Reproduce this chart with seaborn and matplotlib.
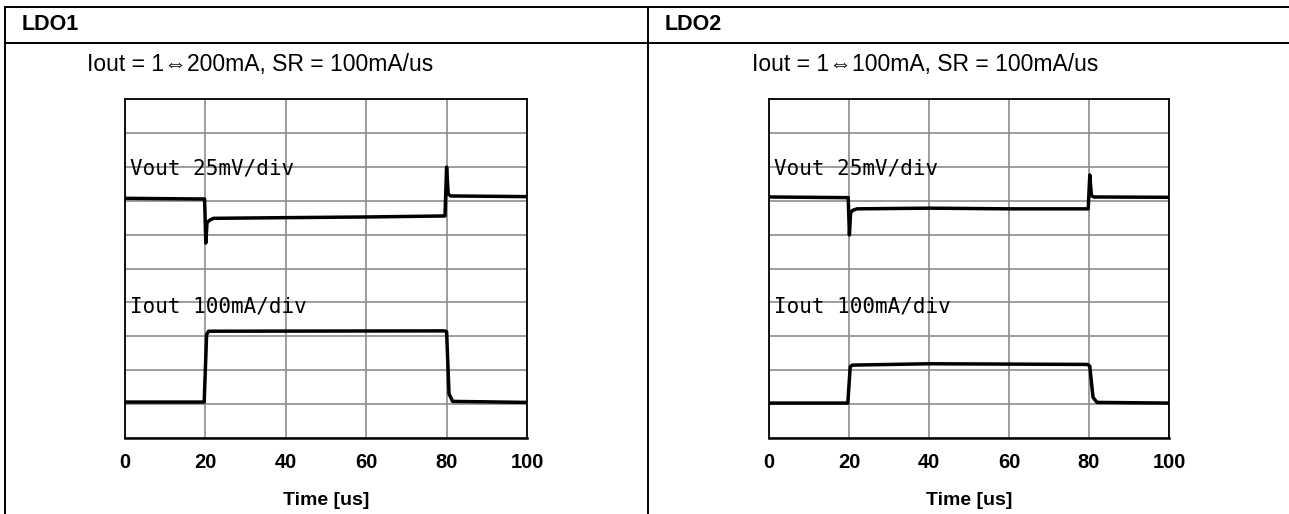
import matplotlib
matplotlib.use("Agg")
import matplotlib.pyplot as plt
import seaborn as sns
import pandas as pd
from matplotlib.lines import Line2D

# ---------------- data ----------------
panel_names = ["LDO1", "LDO2"]
panel_titles = ["Iout = 1\u21d4200mA, SR = 100mA/us", "Iout = 1\u21d4100mA, SR = 100mA/us"]

ldo1_vout_t = [0, 19.8, 20.1, 20.4, 21.0, 22.0, 40.0, 60.0, 79.6, 80.0, 80.4, 81.0, 100]
ldo1_vout_v = [7.07, 7.05, 5.75, 6.35, 6.42, 6.48, 6.50, 6.52, 6.55, 7.99, 7.20, 7.14, 7.12]
ldo1_iout_t = [0, 19.7, 20.3, 20.8, 79.4, 80.0, 80.6, 81.5, 100]
ldo1_iout_v = [1.06, 1.06, 3.05, 3.15, 3.16, 3.14, 1.30, 1.08, 1.05]

ldo2_vout_t = [0, 19.8, 20.1, 20.4, 21.0, 22.0, 40.0, 60.0, 79.8, 80.2, 80.6, 81.2, 100]
ldo2_vout_v = [7.11, 7.09, 5.99, 6.65, 6.72, 6.76, 6.78, 6.76, 6.76, 7.76, 7.15, 7.11, 7.10]
ldo2_iout_t = [0, 19.7, 20.3, 20.8, 40.0, 79.6, 80.2, 81.0, 82.0, 100]
ldo2_iout_v = [1.03, 1.03, 2.10, 2.15, 2.19, 2.17, 2.12, 1.20, 1.05, 1.03]

x_ticks = [0, 20, 40, 60, 80, 100]
y_divs = list(range(0, 11))
vout_label = "Vout 25mV/div"
iout_label = "Iout 100mA/div"
x_label = "Time [us]"

# ---------------- figure ----------------
sns.set_style("white")
plt.rcParams["font.family"] = ["Liberation Sans", "Noto Sans CJK JP", "DejaVu Sans"]
plt.rcParams["text.color"] = "black"
plt.rcParams["xtick.color"] = "black"
plt.rcParams["axes.labelcolor"] = "black"

fig = plt.figure(figsize=(12.89, 5.14), dpi=100)
W, H = 1289, 514

def fx(px):
    return px / W

def fy(py):
    return 1 - py / H

# table lines
lw_tab = 1.4
for (x0, y0, x1, y1) in [(5, 7, 1289, 7), (5, 43, 1289, 43), (5, 7, 5, 514), (648, 7, 648, 514)]:
    fig.add_artist(Line2D([fx(x0), fx(x1)], [fy(y0), fy(y1)], color="black", lw=lw_tab,
                          transform=fig.transFigure))

# headers & titles
fig.text(fx(22), fy(25), panel_names[0], fontsize=15.5, fontweight="bold", va="center", ha="left")
fig.text(fx(665), fy(25), panel_names[1], fontsize=15.5, fontweight="bold", va="center", ha="left")
fig.text(fx(260), fy(65), panel_titles[0], fontsize=16.5, va="center", ha="center")
fig.text(fx(925), fy(65), panel_titles[1], fontsize=16.5, va="center", ha="center")

axes_px = [(125, 527), (769, 1169)]
top_px, bot_px = 99, 438
series = [
    (ldo1_vout_t, ldo1_vout_v, ldo1_iout_t, ldo1_iout_v),
    (ldo2_vout_t, ldo2_vout_v, ldo2_iout_t, ldo2_iout_v),
]

for (l, r), (vt, vv, it, iv) in zip(axes_px, series):
    ax = fig.add_axes([fx(l), fy(bot_px), fx(r) - fx(l), fy(top_px) - fy(bot_px)])
    dv = pd.DataFrame({"t": vt, "v": vv})
    di = pd.DataFrame({"t": it, "v": iv})
    sns.lineplot(data=dv, x="t", y="v", ax=ax, color="black", lw=2.5, estimator=None, sort=False)
    sns.lineplot(data=di, x="t", y="v", ax=ax, color="black", lw=2.5, estimator=None, sort=False)
    ax.set_xlim(0, 100)
    ax.set_ylim(0, 10)
    ax.set_xticks(x_ticks)
    ax.set_yticks(y_divs)
    ax.set_yticklabels([])
    ax.grid(True, color="#8c8c8c", lw=1.2)
    ax.set_axisbelow(True)
    for s in ax.spines.values():
        s.set_color("black")
        s.set_linewidth(1.3)
    ax.spines["bottom"].set_linewidth(1.8)
    ax.tick_params(axis="y", length=0)
    ax.tick_params(axis="x", direction="out", length=4, width=1.3, color="black",
                   labelcolor="black", labelsize=14.5, pad=7)
    for lab in ax.get_xticklabels():
        lab.set_fontweight("bold")
    ax.set_xlabel(x_label, fontsize=14, fontweight="bold", labelpad=14, color="black")
    ax.set_ylabel("")
    ax.text(1.3, 7.95, vout_label, fontsize=15, family=["DejaVu Sans Mono"], color="black",
            va="center", ha="left")
    ax.text(1.3, 3.89, iout_label, fontsize=15, family=["DejaVu Sans Mono"], color="black",
            va="center", ha="left")

fig.savefig("out.png", dpi=100)
